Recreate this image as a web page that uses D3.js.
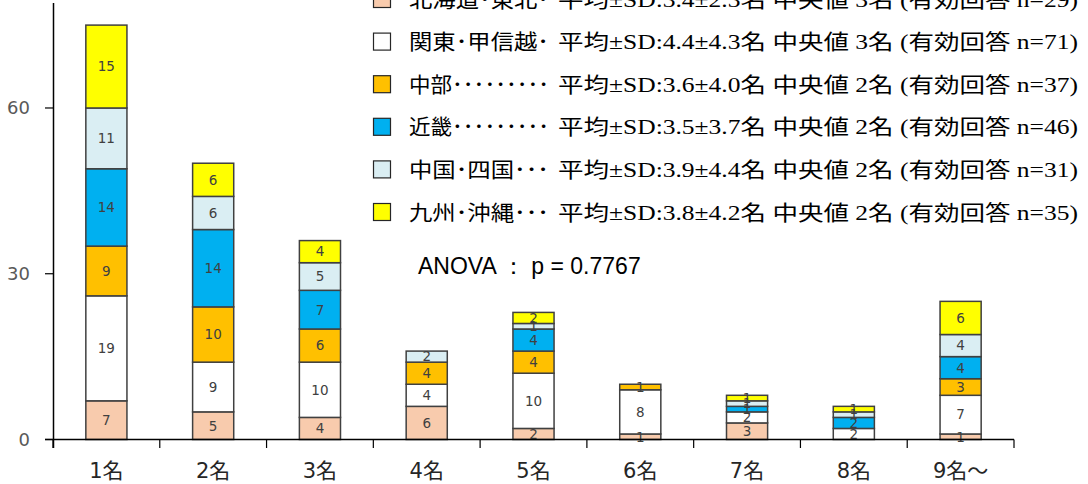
<!DOCTYPE html>
<html>
<head>
<meta charset="utf-8">
<script src="https://cdn.jsdelivr.net/npm/d3@7"></script>
<style>
  body { margin: 0; background: #fff; }
  svg { display: block; }
</style>
</head>
<body>
<div id="chart"></div>
<script>
// categories (number of people)
var categories = ["1名", "2名", "3名", "4名", "5名", "6名", "7名", "8名", "9名～"];

// regions, bottom to top of each stack
var regions = ["北海道・東北", "関東・甲信越", "中部", "近畿", "中国・四国", "九州・沖縄"];
var legendNames = ["北海道･東北･", "関東･甲信越･", "中部･････････", "近畿･････････", "中国･四国･･･", "九州･沖縄･･･"];
var legendStats = [
    "平均±SD:3.4±2.3名 中央値 3名 (有効回答 n=29)",
    "平均±SD:4.4±4.3名 中央値 3名 (有効回答 n=71)",
    "平均±SD:3.6±4.0名 中央値 2名 (有効回答 n=37)",
    "平均±SD:3.5±3.7名 中央値 2名 (有効回答 n=46)",
    "平均±SD:3.9±4.4名 中央値 2名 (有効回答 n=31)",
    "平均±SD:3.8±4.2名 中央値 2名 (有効回答 n=35)"
];
var colors = ["#F8CBAD", "#FFFFFF", "#FFC000", "#00B0F0", "#DAEEF3", "#FFFF00"];

// counts per region, one value per category
var hokkaido = [7, 5, 4, 6, 2, 1, 3, 0, 1];
var kanto    = [19, 9, 10, 4, 10, 8, 2, 2, 7];
var chubu    = [9, 10, 6, 4, 4, 1, 0, 0, 3];
var kinki    = [14, 14, 7, 0, 4, 0, 1, 2, 4];
var chugoku  = [11, 6, 5, 2, 1, 0, 1, 1, 4];
var kyushu   = [15, 6, 4, 0, 2, 0, 1, 1, 6];

var yTicks = [0, 30, 60];
var anovaText = "ANOVA ： p = 0.7767";

var W = 1088, H = 484;
var series = [hokkaido, kanto, chubu, kinki, chugoku, kyushu];

// build rows for d3.stack
var table = categories.map(function(c, i) {
    var row = {cat: c};
    regions.forEach(function(r, j) { row[r] = series[j][i]; });
    return row;
});

var svg = d3.select("#chart").append("svg")
    .attr("width", W)
    .attr("height", H);

var x = d3.scaleBand()
    .domain(categories)
    .range([53, 1014])
    .paddingInner(0.615)
    .paddingOuter(0.3075);

var y = d3.scaleLinear().domain([0, 79]).range([439.5, 3]);

var stack = d3.stack().keys(regions);
var layers = stack(table);

var axisColor = "#000";

// bars
var g = svg.append("g");
layers.forEach(function(layer, j) {
    var segs = layer.filter(function(d) { return d[1] - d[0] > 0; });
    g.selectAll(null)
        .data(segs)
        .enter().append("rect")
        .attr("x", function(d) { return x(d.data.cat); })
        .attr("y", function(d) { return y(d[1]); })
        .attr("width", x.bandwidth())
        .attr("height", function(d) { return y(d[0]) - y(d[1]); })
        .style("fill", colors[j])
        .style("stroke", "#404040")
        .style("stroke-width", 1.5);
});

// value labels
layers.forEach(function(layer, j) {
    var segs = layer.filter(function(d) { return d[1] - d[0] > 0; });
    g.selectAll(null)
        .data(segs)
        .enter().append("text")
        .attr("x", function(d) { return x(d.data.cat) + x.bandwidth() / 2; })
        .attr("y", function(d) { return (y(d[0]) + y(d[1])) / 2; })
        .attr("dy", "0.36em")
        .attr("text-anchor", "middle")
        .style("font-family", "'DejaVu Sans', sans-serif")
        .style("font-size", "13.5px")
        .style("fill", "#404040")
        .text(function(d) { return d[1] - d[0]; });
});

// y axis
svg.append("line")
    .attr("x1", 53.5).attr("x2", 53.5)
    .attr("y1", y.range()[1]).attr("y2", 448)
    .style("stroke", axisColor).style("stroke-width", 1.5);

svg.selectAll(".ytick")
    .data(yTicks)
    .enter().append("line")
    .attr("x1", 45).attr("x2", 53.5)
    .attr("y1", function(d) { return y(d); })
    .attr("y2", function(d) { return y(d); })
    .style("stroke", axisColor).style("stroke-width", 1.2);

svg.selectAll(".ylab")
    .data(yTicks)
    .enter().append("text")
    .attr("x", 30)
    .attr("y", function(d) { return y(d); })
    .attr("dy", "0.36em")
    .attr("text-anchor", "end")
    .style("font-family", "'DejaVu Sans', sans-serif")
    .style("font-size", "18px")
    .style("fill", "#595959")
    .text(function(d) { return d; });

// x axis
svg.append("line")
    .attr("x1", 45).attr("x2", x.range()[1])
    .attr("y1", y(0)).attr("y2", y(0))
    .style("stroke", axisColor).style("stroke-width", 1.5);

svg.selectAll(".xtick")
    .data(d3.range(categories.length + 1))
    .enter().append("line")
    .attr("x1", function(i) { return x.range()[0] + i * x.step(); })
    .attr("x2", function(i) { return x.range()[0] + i * x.step(); })
    .attr("y1", y(0)).attr("y2", 448)
    .style("stroke", axisColor).style("stroke-width", 1.2);

svg.selectAll(".xlab")
    .data(categories)
    .enter().append("text")
    .attr("x", function(d) { return x(d) + x.bandwidth() / 2; })
    .attr("y", 470)
    .attr("dy", "0.36em")
    .attr("text-anchor", "middle")
    .style("font-family", "'DejaVu Sans', 'Noto Sans CJK JP', sans-serif")
    .style("font-size", "21px")
    .style("fill", "#262626")
    .text(function(d) { return d; });

// legend: name part and stats part, each fitted to the reference widths
var legend = svg.append("g");
legendNames.forEach(function(name, i) {
    var cy = -1 + i * 42.6;
    legend.append("rect")
        .attr("x", 373.5).attr("y", cy - 8.5)
        .attr("width", 17).attr("height", 17)
        .style("fill", colors[i])
        .style("stroke", "#262626")
        .style("stroke-width", 1.2);
    legend.append("text")
        .attr("x", 409)
        .attr("y", cy)
        .attr("dy", "0.36em")
        .attr("textLength", 140)
        .attr("lengthAdjust", "spacingAndGlyphs")
        .style("font-family", "'Noto Sans CJK JP', sans-serif")
        .style("font-size", "21px")
        .style("fill", "#000")
        .text(name);
    legend.append("text")
        .attr("x", 558)
        .attr("y", cy)
        .attr("dy", "0.36em")
        .attr("textLength", 520)
        .attr("lengthAdjust", "spacingAndGlyphs")
        .style("font-family", "'Liberation Serif', 'Noto Sans CJK JP', serif")
        .style("font-size", "21px")
        .style("fill", "#000")
        .text(legendStats[i]);
});

// ANOVA annotation
svg.append("text")
    .attr("x", 418)
    .attr("y", 274)
    .style("font-family", "'Liberation Sans', Arial, sans-serif")
    .style("font-size", "23px")
    .style("fill", "#000")
    .text(anovaText);
</script>
</body>
</html>
